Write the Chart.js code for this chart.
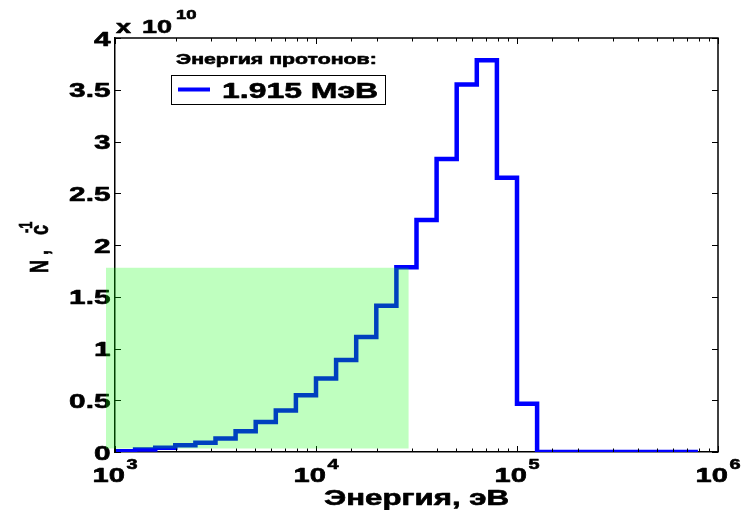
<!DOCTYPE html>
<html><head><meta charset="utf-8">
<script src="https://cdn.jsdelivr.net/npm/chart.js@4.4.1/dist/chart.umd.min.js"></script>
<style>html,body{margin:0;padding:0;background:#fff;}canvas{display:block;}</style>
</head><body>
<canvas id="c" width="754" height="510"></canvas>
<script>
// ---- data ----
const binEdges = [1000, 1259, 1585, 1995, 2512, 3162, 3981, 5012, 6310, 7943,
  10000, 12589, 15849, 19953, 25119, 31623, 39811, 50119, 63096, 79433,
  100000, 125893, 158489, 199526, 251189, 316228, 398107, 501187, 630957, 794328];
const counts = [0.008e10, 0.024e10, 0.04e10, 0.066e10, 0.089e10, 0.13e10, 0.2e10, 0.29e10, 0.40e10, 0.548e10,
  0.709e10, 0.889e10, 1.111e10, 1.413e10, 1.784e10, 2.242e10, 2.83e10, 3.55e10, 3.785e10, 2.65e10,
  0.465e10, 0, 0, 0, 0, 0, 0, 0, 0];
const yTickValues = [0, 0.5e10, 1e10, 1.5e10, 2e10, 2.5e10, 3e10, 3.5e10, 4e10];
const yTickLabels = ['0', '0.5', '1', '1.5', '2', '2.5', '3', '3.5', '4'];
const xTickValues = [1e3, 1e4, 1e5, 1e6];
const xTickBase = '10';
const xTickExponents = ['3', '4', '5', '6'];
const yMultiplier = ['x', '10', '10'];
const seriesLabel = '1.915 МэВ';
const legendTitle = 'Энергия протонов:';
const xTitle = 'Энергия, эВ';
const yTitleParts = ['N ,', 'с', '-1'];
const shadeX = [902, 28880];
const shadeY = [0.034e10, 1.78e10];

// ---- helpers ----
const SX = 1.42;
const FONT = '"Liberation Sans", Arial, Helvetica, sans-serif';
function stxt(ctx, text, x, y, size, align) {
  ctx.save();
  ctx.font = 'bold ' + size + 'px ' + FONT;
  const w = ctx.measureText(text).width * SX;
  let x0 = x;
  if (align === 'right') x0 = x - w; else if (align === 'center') x0 = x - w / 2;
  ctx.translate(x0, y);
  ctx.scale(SX, 1);
  ctx.textAlign = 'left';
  ctx.textBaseline = 'alphabetic';
  ctx.fillStyle = '#000';
  ctx.strokeStyle = '#000';
  ctx.lineWidth = 0.6;
  ctx.lineJoin = 'round';
  ctx.fillText(text, 0, 0);
  ctx.strokeText(text, 0, 0);
  ctx.restore();
  return w;
}
function tw(ctx, text, size) {
  ctx.save(); ctx.font = 'bold ' + size + 'px ' + FONT;
  const w = ctx.measureText(text).width * SX; ctx.restore(); return w;
}

const decor = {
  id: 'decor',
  afterDraw(chart) {
    const ctx = chart.ctx;
    const xs = chart.scales.x, ys = chart.scales.y;
    const a = chart.chartArea;
    ctx.save();
    // frame top/right
    ctx.strokeStyle = '#000';
    ctx.lineWidth = 1.5;
    ctx.beginPath();
    ctx.moveTo(a.left, a.top); ctx.lineTo(a.right, a.top); ctx.lineTo(a.right, a.bottom);
    ctx.stroke();
    // inward ticks
    ctx.lineWidth = 1;
    xs.ticks.forEach(t => {
      const v = t.value;
      if (v < xs.min || v > xs.max) return;
      const lg = Math.log10(v);
      const major = Math.abs(lg - Math.round(lg)) < 1e-9;
      const len = major ? 6 : 3.5;
      const px = Math.round(xs.getPixelForValue(v)) + 0.5;
      ctx.beginPath();
      ctx.moveTo(px, a.bottom); ctx.lineTo(px, a.bottom - len);
      ctx.moveTo(px, a.top); ctx.lineTo(px, a.top + len);
      ctx.stroke();
    });
    yTickValues.forEach(v => {
      const py = Math.round(ys.getPixelForValue(v)) + 0.5;
      ctx.beginPath();
      ctx.moveTo(a.left, py); ctx.lineTo(a.left + 6, py);
      ctx.moveTo(a.right, py); ctx.lineTo(a.right - 6, py);
      ctx.stroke();
    });
    // y tick labels
    yTickValues.forEach((v, i) => {
      const py = ys.getPixelForValue(v);
      stxt(ctx, yTickLabels[i], a.left - 4.5, py + 7.5, 21, 'right');
    });
    // x tick labels
    xTickValues.forEach((v, i) => {
      const px = xs.getPixelForValue(v);
      const w1 = tw(ctx, xTickBase, 20.5), w2 = tw(ctx, xTickExponents[i], 14);
      const total = w1 + 1.5 + w2;
      const x0 = px - total / 2;
      stxt(ctx, xTickBase, x0, a.bottom + 30, 20.5, 'left');
      stxt(ctx, xTickExponents[i], x0 + w1 + 1.5, a.bottom + 16.5, 14, 'left');
    });
    // multiplier
    stxt(ctx, yMultiplier[0], a.left + 1, 33.3, 19, 'left');
    const wm = stxt(ctx, yMultiplier[1], a.left + 27, 33.3, 19, 'left');
    stxt(ctx, yMultiplier[2], a.left + 27 + wm + 4, 19.3, 13, 'left');
    // x title
    stxt(ctx, xTitle, (a.left + a.right) / 2, 505, 22, 'center');
    // y title (rotated, stretched perpendicular to reading direction)
    ctx.save();
    ctx.translate(48, (a.top + a.bottom) / 2 + 28);
    ctx.rotate(-Math.PI / 2);
    ctx.scale(1, SX);
    ctx.fillStyle = '#000';
    ctx.strokeStyle = '#000';
    ctx.lineWidth = 0.5;
    ctx.textBaseline = 'alphabetic';
    ctx.font = 'bold 18px ' + FONT;
    ctx.fillText(yTitleParts[0], 0, 0); ctx.strokeText(yTitleParts[0], 0, 0);
    ctx.fillText(yTitleParts[1], 38, 0); ctx.strokeText(yTitleParts[1], 38, 0);
    ctx.font = 'bold 13px ' + FONT;
    ctx.fillText(yTitleParts[2], 40, -11.3); ctx.strokeText(yTitleParts[2], 40, -11.3);
    ctx.restore();
    // legend
    stxt(ctx, legendTitle, 176, 64, 15, 'left');
    ctx.fillStyle = '#fff';
    ctx.fillRect(171.5, 75.5, 214, 29);
    ctx.strokeStyle = '#000';
    ctx.lineWidth = 1;
    ctx.strokeRect(171.5, 75.5, 214, 29);
    const ds = chart.data.datasets[0];
    ctx.strokeStyle = ds.borderColor;
    ctx.lineWidth = 4;
    ctx.beginPath(); ctx.moveTo(178, 89.5); ctx.lineTo(210, 89.5); ctx.stroke();
    stxt(ctx, ds.label, 222, 98.3, 22.5, 'left');
    // translucent green region (drawn over line and axis)
    const x1 = xs.getPixelForValue(shadeX[0]), x2 = xs.getPixelForValue(shadeX[1]);
    const y1 = ys.getPixelForValue(shadeY[1]), y2 = ys.getPixelForValue(shadeY[0]);
    ctx.fillStyle = 'rgba(0,255,0,0.25)';
    ctx.fillRect(x1, y1, x2 - x1, y2 - y1);
    ctx.restore();
  }
};

const points = binEdges.map((e, i) => ({ x: e, y: counts[Math.min(i, counts.length - 1)] }));

new Chart(document.getElementById('c'), {
  type: 'line',
  data: {
    datasets: [{
      label: seriesLabel,
      data: points,
      stepped: true,
      borderColor: '#0000ff',
      borderWidth: 4.5,
      pointRadius: 0,
      fill: false,
      tension: 0,
      borderJoinStyle: 'miter',
      borderCapStyle: 'butt'
    }]
  },
  options: {
    responsive: false,
    animation: false,
    devicePixelRatio: 1,
    layout: { padding: { top: 38, right: 36, left: 0, bottom: 0 } },
    plugins: { legend: { display: false }, tooltip: { enabled: false } },
    scales: {
      x: {
        type: 'logarithmic', min: 1000, max: 1e6,
        grid: { display: false },
        border: { display: true, color: '#000', width: 1.5 },
        ticks: { display: false },
        afterFit(s) { s.height = 58; }
      },
      y: {
        type: 'linear', min: 0, max: 4e10,
        grid: { display: false },
        border: { display: true, color: '#000', width: 1.5 },
        ticks: { display: false, stepSize: 0.5e10 },
        afterFit(s) { s.width = 115; }
      }
    }
  },
  plugins: [decor]
});
</script>
</body></html>
